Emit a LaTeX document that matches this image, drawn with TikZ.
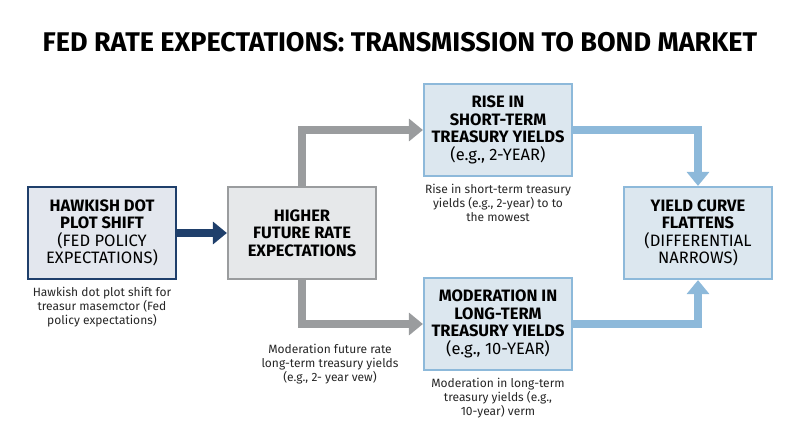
\documentclass[tikz,border=0pt]{standalone}
\usepackage{fontspec}
\setmainfont{Fira Sans}
\usetikzlibrary{arrows.meta,positioning}
\definecolor{navy}{HTML}{1F3F6B}
\definecolor{navyfill}{HTML}{E3E7EE}
\definecolor{greyline}{HTML}{9A9C9E}
\definecolor{greyfill}{HTML}{E6E8EA}
\definecolor{blueline}{HTML}{8DB9DA}
\definecolor{bluefill}{HTML}{DCE7EF}
\begin{document}
\begin{tikzpicture}[x=1pt,y=-1pt,
  box/.style={draw, line width=2.2pt, minimum width=148pt, minimum height=92pt, align=center, font=\fontsize{16.5}{17.5}\selectfont, inner sep=1pt},
  note/.style={align=center, font=\fontsize{12}{14}\selectfont, text=black!85},
  flow/.style={line width=8pt, -{Triangle[length=14pt,width=22pt]}}]

\useasboundingbox (0,0) rectangle (800,447);

\node[font=\bfseries\fontsize{27}{30}\selectfont] (title) at (400,42) {FED RATE EXPECTATIONS: TRANSMISSION TO BOND MARKET};

\node[box, draw=navy, fill=navyfill] (hawk) at (102,233) {\textbf{HAWKISH DOT}\\\textbf{PLOT SHIFT}\\(FED POLICY\\EXPECTATIONS)};
\node[box, draw=greyline, fill=greyfill] (higher) at (302,233) {\textbf{HIGHER}\\\textbf{FUTURE RATE}\\\textbf{EXPECTATIONS}};
\node[box, draw=blueline, fill=bluefill] (rise) at (498,130) {\textbf{RISE IN}\\\textbf{SHORT-TERM}\\\textbf{TREASURY YIELDS}\\(e.g., 2-YEAR)};
\node[box, draw=blueline, fill=bluefill] (moder) at (498,324) {\textbf{MODERATION IN}\\\textbf{LONG-TERM}\\\textbf{TREASURY YIELDS}\\(e.g., 10-YEAR)};
\node[box, draw=blueline, fill=bluefill] (curve) at (698,233) {\textbf{YIELD CURVE}\\\textbf{FLATTENS}\\(DIFFERENTIAL\\NARROWS)};

% captions
\node[note, below=4pt of hawk] (hawknote) {Hawkish dot plot shift for\\treasur masemctor (Fed\\policy expectations)};
\node[note] (highernote) at (330,364) {Moderation future rate\\long-term treasury yields\\(e.g., 2- year vew)};
\node[note, below=4pt of rise] (risenote) {Rise in short-term treasury\\yields (e.g., 2-year) to to\\the mowest};
\node[note, below=4pt of moder] (modernote) {Moderation in long-term\\treasury yields (e.g.,\\10-year) verm};

% arrows
\draw[flow, navy] (hawk.east) -- (higher.west);
\draw[flow, greyline] (higher.north) |- (rise.west);
\draw[flow, greyline] (higher.south) |- (moder.west);
\draw[flow, blueline] (rise.east) -| (curve.north);
\draw[flow, blueline] (moder.east) -| (curve.south);

\end{tikzpicture}
\end{document}
